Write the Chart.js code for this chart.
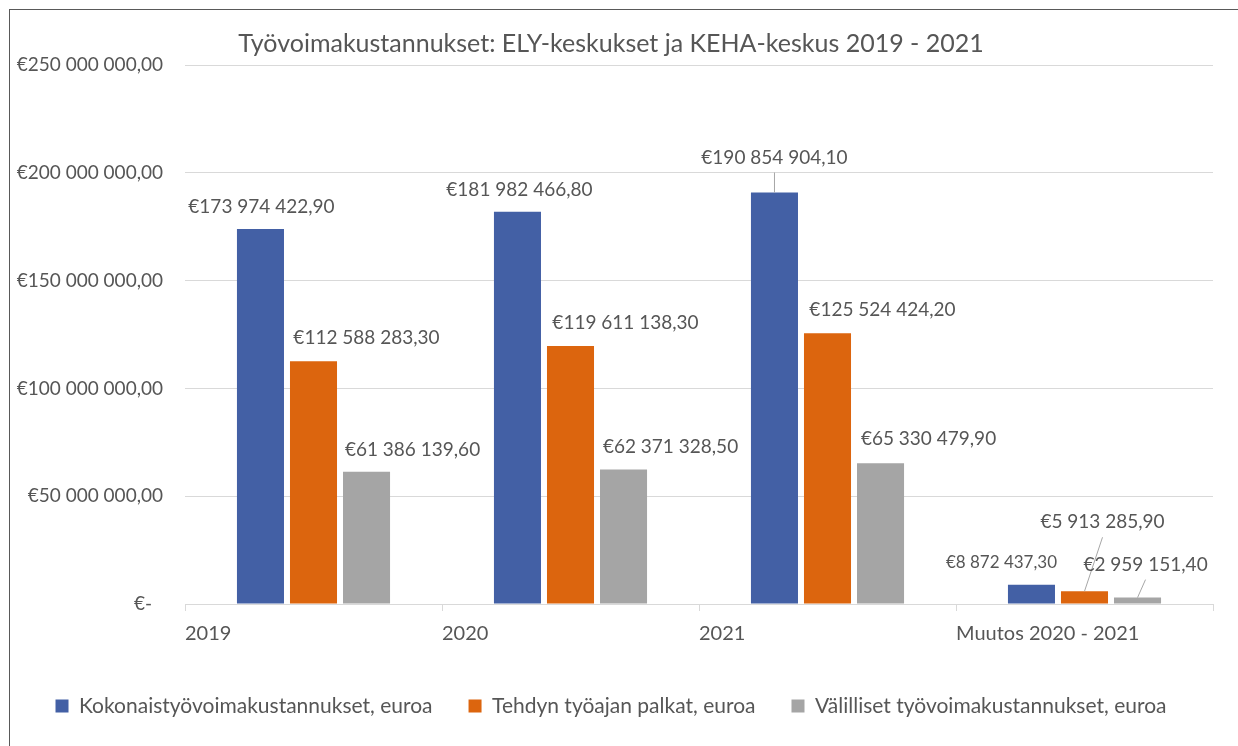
<!DOCTYPE html>
<html>
<head>
<meta charset="utf-8">
<title>Työvoimakustannukset</title>
<script src="https://cdn.jsdelivr.net/npm/chart.js@4.4.1/dist/chart.umd.min.js"></script>
<style>
  html, body { margin: 0; padding: 0; background: #fff; overflow: hidden; }
  #wrap { position: relative; width: 1238px; height: 746px; }
  /* the thin chart frame, only top and left edge are in view */
  #frame { position: absolute; left: 9px; top: 9px; width: 1300px; height: 800px;
           border-top: 1px solid #595959; border-left: 1px solid #595959; pointer-events: none; }
</style>
</head>
<body>
<div id="wrap">
  <canvas id="chart" width="1238" height="746"></canvas>
  <div id="frame"></div>
</div>
<script>
const categories = ['2019', '2020', '2021', 'Muutos 2020 - 2021'];
const seriesNames = [
  'Kokonaistyövoimakustannukset, euroa',
  'Tehdyn työajan palkat, euroa',
  'Välilliset työvoimakustannukset, euroa',
];
const totalCosts = [173974422.90, 181982466.80, 190854904.10, 8872437.30];
const paidWages = [112588283.30, 119611138.30, 125524424.20, 5913285.90];
const indirectCosts = [61386139.60, 62371328.50, 65330479.90, 2959151.40];

const seriesColors = ['#4360a5', '#dc650e', '#a5a5a5'];
const textColor = '#565656';
const fontFamily = 'Lato';

// data label nudges (px from bar top centre), per series
const labelDx = [[1, 2, 0, -30], [53, 55, 55, 18], [46, 47, 48, 8]];
const labelDy = [[-22, -22, -35, -22], [-23, -23, -23, -69], [-22, -23, -24, -33]];
const labelLeader = [[0, 0, 1, 0], [0, 0, 0, 1], [0, 0, 0, 1]];
const labelSize = [[19, 19, 19, 17], [19, 19, 19, 19], [19, 19, 19, 19]];

function euro(v) {
  const parts = v.toFixed(2).split('.');
  return '€' + parts[0].replace(/\B(?=(\d{3})+(?!\d))/g, ' ') + ',' + parts[1];
}

const barLabels = {
  id: 'barLabels',
  afterDatasetsDraw(chart) {
    const ctx = chart.ctx;
    ctx.save();
    ctx.fillStyle = textColor;
    ctx.textAlign = 'center';
    ctx.textBaseline = 'middle';
    chart.data.datasets.forEach((ds, s) => {
      chart.getDatasetMeta(s).data.forEach((bar, i) => {
        const lx = bar.x + labelDx[s][i];
        const ly = bar.y + labelDy[s][i];
        if (labelLeader[s][i]) {
          ctx.strokeStyle = '#a6a6a6';
          ctx.lineWidth = 1;
          ctx.beginPath();
          ctx.moveTo(lx, ly + 15);
          ctx.lineTo(bar.x, bar.y);
          ctx.stroke();
        }
        ctx.font = labelSize[s][i] + 'px ' + fontFamily;
        ctx.fillText(euro(ds.data[i]), lx, ly);
      });
    });
    ctx.restore();
  }
};

Chart.defaults.font.family = fontFamily;
Chart.defaults.color = textColor;

new Chart(document.getElementById('chart'), {
  type: 'bar',
  data: {
    labels: categories,
    datasets: [totalCosts, paidWages, indirectCosts].map((d, i) => ({
      label: seriesNames[i],
      data: d,
      backgroundColor: seriesColors[i],
      borderWidth: 0,
      categoryPercentage: 0.619,
      barPercentage: 0.887,
    })),
  },
  options: {
    responsive: false,
    animation: false,
    layout: { padding: { left: 9, top: 9, right: 25, bottom: 19.5 } },
    scales: {
      x: {
        grid: { offset: true, drawOnChartArea: false, tickLength: 7, color: '#d9d9d9' },
        border: { color: '#d9d9d9' },
        ticks: { display: false },
        afterFit: (s) => { s.height = 7; },
      },
      // category names sit at the left edge of each group, so a plain linear axis carries them
      xl: {
        type: 'linear',
        position: 'bottom',
        weight: 1,
        offset: false,
        min: 0,
        max: categories.length,
        grid: { display: false, drawTicks: false, offset: false },
        border: { display: false },
        ticks: {
          stepSize: 1,
          align: 'start',
          padding: 11,
          autoSkip: false,
          maxRotation: 0,
          color: textColor,
          font: { size: 20 },
          callback: (v) => categories[v] || '',
        },
        afterFit: (s) => { s.height = 48.5; },
      },
      y: {
        min: 0,
        max: 250000000,
        grid: { color: '#d9d9d9', drawTicks: false },
        border: { display: false },
        ticks: {
          stepSize: 50000000,
          padding: 22,
          color: textColor,
          font: { size: 19 },
          callback: (v) => (v === 0 ? '€-\u2007' : euro(v)),
        },
        afterFit: (s) => { s.width = 176; },
      },
    },
    plugins: {
      title: {
        display: true,
        text: 'Työvoimakustannukset: ELY-keskukset ja KEHA-keskus 2019 - 2021',
        color: textColor,
        font: { size: 25, weight: 'normal' },
        padding: { top: 20, bottom: 6 },
      },
      legend: {
        position: 'bottom',
        labels: { boxWidth: 13, boxHeight: 13, padding: 36, color: textColor, font: { size: 21 } },
      },
      tooltip: { enabled: false },
    },
  },
  plugins: [barLabels],
});
</script>
</body>
</html>
